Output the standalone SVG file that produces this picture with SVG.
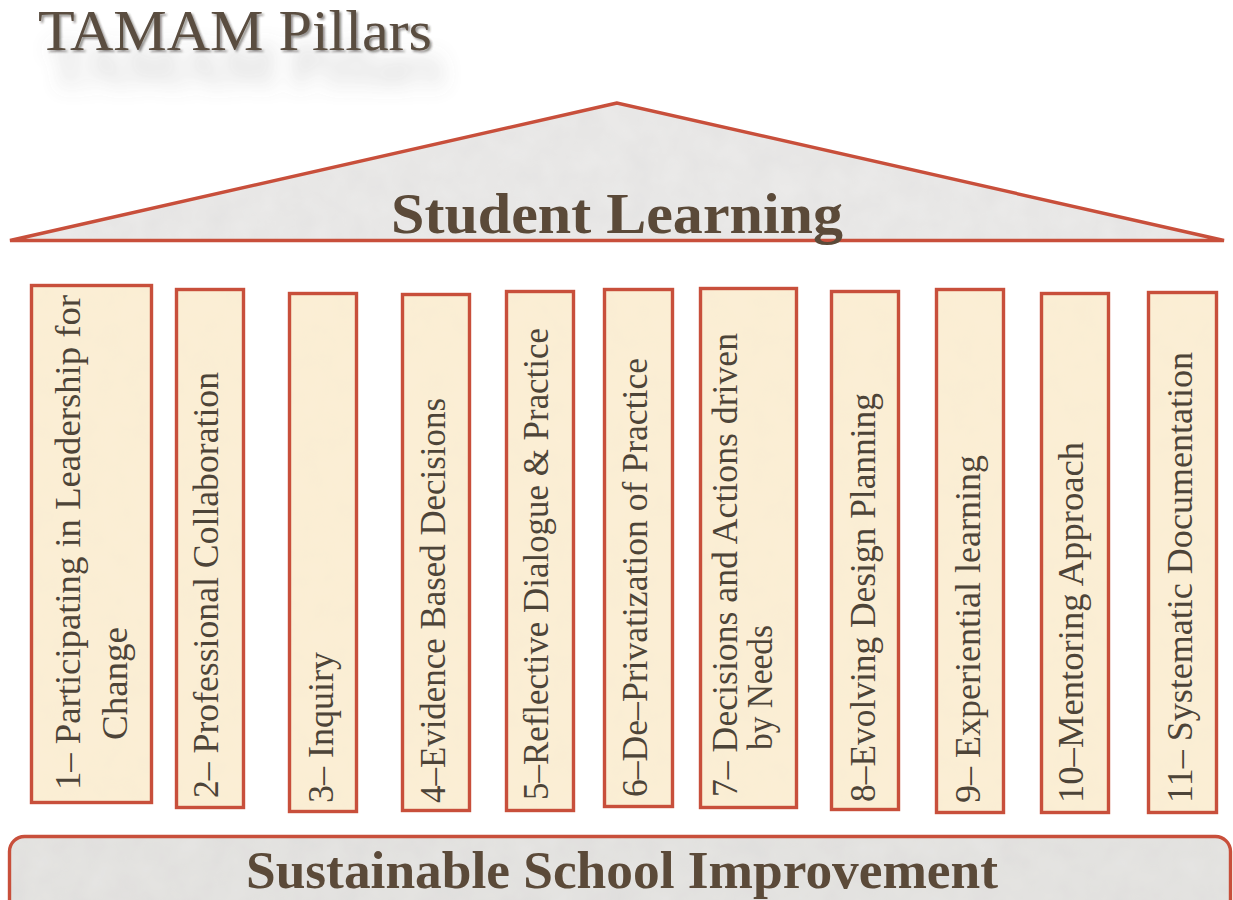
<svg xmlns="http://www.w3.org/2000/svg" width="1233" height="900" viewBox="0 0 1233 900">
<defs>
<filter id="paper" x="0" y="0" width="1" height="1">
<feTurbulence type="fractalNoise" baseFrequency="0.035" numOctaves="3" seed="4" result="n"/>
<feColorMatrix in="n" type="matrix" values="0 0 0 0 0.55  0 0 0 0 0.55  0 0 0 0 0.55  0 0 0 0.22 0" result="t"/>
<feComposite in="t" in2="SourceGraphic" operator="in" result="tc"/>
<feMerge><feMergeNode in="SourceGraphic"/><feMergeNode in="tc"/></feMerge>
</filter>
<filter id="cream" x="0" y="0" width="1" height="1">
<feTurbulence type="fractalNoise" baseFrequency="0.04" numOctaves="3" seed="9" result="n"/>
<feColorMatrix in="n" type="matrix" values="0 0 0 0 0.85  0 0 0 0 0.75  0 0 0 0 0.55  0 0 0 0.16 0" result="t"/>
<feComposite in="t" in2="SourceGraphic" operator="in" result="tc"/>
<feMerge><feMergeNode in="SourceGraphic"/><feMergeNode in="tc"/></feMerge>
</filter>
<filter id="titleShadow" x="-15%" y="-30%" width="135%" height="300%">
<feGaussianBlur in="SourceAlpha" stdDeviation="10" result="b1"/>
<feOffset in="b1" dx="12" dy="34" result="o1"/>
<feFlood flood-color="#707070" flood-opacity="0.38"/>
<feComposite in2="o1" operator="in" result="s1"/>
<feGaussianBlur in="SourceAlpha" stdDeviation="1.2" result="b2"/>
<feOffset in="b2" dx="2" dy="2" result="o2"/>
<feFlood flood-color="#2a2420" flood-opacity="0.5"/>
<feComposite in2="o2" operator="in" result="s2"/>
<feMerge><feMergeNode in="s1"/><feMergeNode in="s2"/><feMergeNode in="SourceGraphic"/></feMerge>
</filter>
</defs>
<style>
.pfill{fill:#fcefd6}
.pedge{fill:none;stroke:#c84f3b;stroke-width:3.4}
.ptext{font-family:"Liberation Serif","Times New Roman",serif;font-size:36px;fill:#4d4438}
.head{font-family:"Liberation Serif","Times New Roman",serif;font-weight:bold;fill:#5b4a39;text-anchor:middle}
.title{font-family:"Liberation Serif","Times New Roman",serif;font-size:56px;fill:#5a4d40}
</style>
<rect width="1233" height="900" fill="#ffffff"/>

<g id="title">
<text class="title" x="38" y="50" textLength="394" lengthAdjust="spacingAndGlyphs" filter="url(#titleShadow)">TAMAM Pillars</text>
</g>

<g id="roof">
<polygon points="617,103 10,240.5 1224,240.5" fill="#ecebea" filter="url(#paper)"/>
<polygon points="617,103 10,240.5 1224,240.5" fill="none" stroke="#c84f3b" stroke-width="3.4" stroke-linejoin="miter"/>
<text class="head" x="617" y="233" font-size="56" textLength="452" lengthAdjust="spacingAndGlyphs">Student Learning</text>
</g>

<g id="pillar1">
<rect class="pfill" x="31.5" y="285.5" width="120" height="517" filter="url(#cream)"/>
<rect class="pedge" x="31.5" y="285.5" width="120" height="517"/>
<text class="ptext" transform="translate(80,790) rotate(-90)" textLength="495" lengthAdjust="spacingAndGlyphs">1– Participating in Leadership for</text>
<text class="ptext" transform="translate(127,740) rotate(-90)" textLength="113" lengthAdjust="spacingAndGlyphs">Change</text>
</g>
<g id="pillar2">
<rect class="pfill" x="176.5" y="289.5" width="67" height="518" filter="url(#cream)"/>
<rect class="pedge" x="176.5" y="289.5" width="67" height="518"/>
<text class="ptext" transform="translate(218,798) rotate(-90)" textLength="426" lengthAdjust="spacingAndGlyphs">2– Professional Collaboration</text>
</g>
<g id="pillar3">
<rect class="pfill" x="289.5" y="293.5" width="67" height="518" filter="url(#cream)"/>
<rect class="pedge" x="289.5" y="293.5" width="67" height="518"/>
<text class="ptext" transform="translate(333,803) rotate(-90)" textLength="151" lengthAdjust="spacingAndGlyphs">3– Inquiry</text>
</g>
<g id="pillar4">
<rect class="pfill" x="402.5" y="294.5" width="67" height="516" filter="url(#cream)"/>
<rect class="pedge" x="402.5" y="294.5" width="67" height="516"/>
<text class="ptext" transform="translate(445,803) rotate(-90)" textLength="405" lengthAdjust="spacingAndGlyphs">4–Evidence Based Decisions</text>
</g>
<g id="pillar5">
<rect class="pfill" x="506.5" y="291.5" width="67" height="519" filter="url(#cream)"/>
<rect class="pedge" x="506.5" y="291.5" width="67" height="519"/>
<text class="ptext" transform="translate(548,800) rotate(-90)" textLength="472" lengthAdjust="spacingAndGlyphs">5–Reflective Dialogue &amp; Practice</text>
</g>
<g id="pillar6">
<rect class="pfill" x="604.5" y="289.5" width="68" height="517" filter="url(#cream)"/>
<rect class="pedge" x="604.5" y="289.5" width="68" height="517"/>
<text class="ptext" transform="translate(647,797) rotate(-90)" textLength="439" lengthAdjust="spacingAndGlyphs">6–De–Privatization of Practice</text>
</g>
<g id="pillar7">
<rect class="pfill" x="700.5" y="288.5" width="96" height="519" filter="url(#cream)"/>
<rect class="pedge" x="700.5" y="288.5" width="96" height="519"/>
<text class="ptext" transform="translate(737,797) rotate(-90)" textLength="464" lengthAdjust="spacingAndGlyphs">7– Decisions and Actions driven</text>
<text class="ptext" transform="translate(772,750) rotate(-90)" textLength="125" lengthAdjust="spacingAndGlyphs">by Needs</text>
</g>
<g id="pillar8">
<rect class="pfill" x="831.5" y="291.5" width="67" height="518" filter="url(#cream)"/>
<rect class="pedge" x="831.5" y="291.5" width="67" height="518"/>
<text class="ptext" transform="translate(875,802) rotate(-90)" textLength="409" lengthAdjust="spacingAndGlyphs">8–Evolving Design Planning</text>
</g>
<g id="pillar9">
<rect class="pfill" x="936.5" y="289.5" width="67" height="523" filter="url(#cream)"/>
<rect class="pedge" x="936.5" y="289.5" width="67" height="523"/>
<text class="ptext" transform="translate(980,803) rotate(-90)" textLength="348" lengthAdjust="spacingAndGlyphs">9– Experiential learning</text>
</g>
<g id="pillar10">
<rect class="pfill" x="1041.5" y="293.5" width="67" height="519" filter="url(#cream)"/>
<rect class="pedge" x="1041.5" y="293.5" width="67" height="519"/>
<text class="ptext" transform="translate(1083,803) rotate(-90)" textLength="361" lengthAdjust="spacingAndGlyphs">10–Mentoring Approach</text>
</g>
<g id="pillar11">
<rect class="pfill" x="1148.5" y="292.5" width="68" height="520" filter="url(#cream)"/>
<rect class="pedge" x="1148.5" y="292.5" width="68" height="520"/>
<text class="ptext" transform="translate(1192,803) rotate(-90)" textLength="451" lengthAdjust="spacingAndGlyphs">11– Systematic Documentation</text>
</g>

<g id="base">
<rect x="9.5" y="836.5" width="1221" height="90" rx="15" ry="15" fill="#e6e5e3" filter="url(#paper)"/>
<rect x="9.5" y="836.5" width="1221" height="90" rx="15" ry="15" fill="none" stroke="#c84f3b" stroke-width="3.4"/>
<text class="head" x="622" y="888" font-size="52" textLength="752" lengthAdjust="spacingAndGlyphs">Sustainable School Improvement</text>
</g>

<g id="connectors"></g>
</svg>
